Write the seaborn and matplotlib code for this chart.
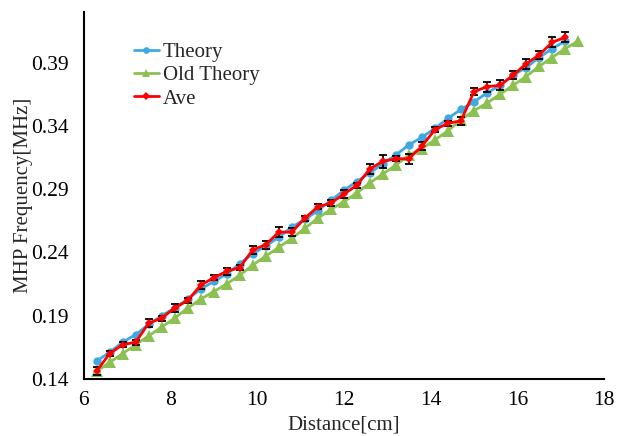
import numpy as np
import pandas as pd
import matplotlib
matplotlib.use("Agg")
import matplotlib.pyplot as plt
import seaborn as sns

# Datos
distancia = [6.3, 6.6, 6.9, 7.2, 7.5, 7.8, 8.1, 8.4, 8.7, 9.0, 9.3, 9.6, 9.9,
             10.2, 10.5, 10.8, 11.1, 11.4, 11.7, 12.0, 12.3, 12.6, 12.9, 13.2,
             13.5, 13.8, 14.1, 14.4, 14.7, 15.0, 15.3, 15.6, 15.9, 16.2, 16.5,
             16.8, 17.1]
distancia_old = distancia + [17.4]

theory = [0.154, 0.161, 0.169, 0.175, 0.183, 0.190, 0.196, 0.203, 0.211, 0.217,
          0.223, 0.231, 0.239, 0.245, 0.252, 0.260, 0.266, 0.273, 0.281, 0.289,
          0.296, 0.303, 0.310, 0.317, 0.325, 0.331, 0.338, 0.346, 0.353, 0.359,
          0.366, 0.372, 0.380, 0.386, 0.394, 0.401, 0.407]

old_theory = [0.146, 0.153, 0.160, 0.167, 0.174, 0.181, 0.188, 0.196, 0.203, 0.209,
              0.215, 0.222, 0.230, 0.237, 0.244, 0.251, 0.259, 0.267, 0.274, 0.280,
              0.287, 0.295, 0.302, 0.309, 0.317, 0.322, 0.329, 0.336, 0.345, 0.352,
              0.358, 0.365, 0.372, 0.379, 0.387, 0.394, 0.401, 0.407]

ave = [0.146, 0.160, 0.167, 0.169, 0.184, 0.188, 0.196, 0.202, 0.214, 0.220,
       0.225, 0.228, 0.242, 0.246, 0.256, 0.256, 0.267, 0.276, 0.279, 0.286,
       0.293, 0.306, 0.312, 0.314, 0.314, 0.324, 0.337, 0.342, 0.344, 0.367,
       0.371, 0.372, 0.380, 0.389, 0.396, 0.406, 0.410]

ave_err = [0.003, 0.002, 0.002, 0.002, 0.003, 0.002, 0.003, 0.002, 0.003, 0.002,
           0.003, 0.002, 0.003, 0.003, 0.004, 0.003, 0.002, 0.002, 0.002, 0.003,
           0.002, 0.004, 0.005, 0.002, 0.004, 0.003, 0.002, 0.002, 0.003, 0.003,
           0.004, 0.004, 0.003, 0.004, 0.003, 0.004, 0.004]

x_ticks = [6, 8, 10, 12, 14, 16, 18]
y_ticks = [0.14, 0.19, 0.24, 0.29, 0.34, 0.39]

sns.set_style("white")
plt.rcParams['font.family'] = ['Liberation Serif', 'DejaVu Serif']

fig, ax = plt.subplots(figsize=(6.19, 4.36), dpi=100)
fig.subplots_adjust(left=0.135, right=0.976, bottom=0.131, top=0.9725)

sns.lineplot(x=distancia, y=theory, ax=ax, color='#41A9E1', linewidth=2.0,
             marker='o', markersize=6, markeredgewidth=0, label='Theory')
sns.lineplot(x=distancia_old, y=old_theory, ax=ax, color='#8CC152', linewidth=2.0,
             marker='^', markersize=8, markeredgewidth=0, label='Old Theory')
ax.errorbar(distancia, ave, yerr=ave_err, fmt='none', ecolor='black',
            elinewidth=1.3, capsize=2.8, capthick=1.3, zorder=4)
sns.lineplot(x=distancia, y=ave, ax=ax, color='#FF0000', linewidth=2.0,
             marker='D', markersize=4.5, markeredgewidth=0, label='Ave', zorder=5)

ax.set_xlim(6, 18)
ax.set_ylim(0.14, 0.43)
ax.set_xticks(x_ticks)
ax.set_yticks(y_ticks)
ax.set_yticklabels([f'{v:.2f}' for v in y_ticks])
ax.tick_params(direction='in', length=6, width=1.3, labelsize=15.5, colors='black')
ax.tick_params(axis='x', pad=9)
ax.tick_params(axis='y', pad=11)

for s in ['top', 'right']:
    ax.spines[s].set_visible(False)
for s in ['left', 'bottom']:
    ax.spines[s].set_color('black')
    ax.spines[s].set_linewidth(1.5)

ax.set_xlabel('Distance[cm]', fontsize=15, labelpad=4)
ax.set_ylabel('MHP Frequency[MHz]', fontsize=15, labelpad=-2)

leg = ax.legend(loc='upper left', bbox_to_anchor=(0.06, 0.968), frameon=False,
                fontsize=15, handlelength=1.2, labelspacing=0.18, handletextpad=0.2,
                markerscale=0.8)

plt.savefig('out.png', dpi=100)
plt.close()
